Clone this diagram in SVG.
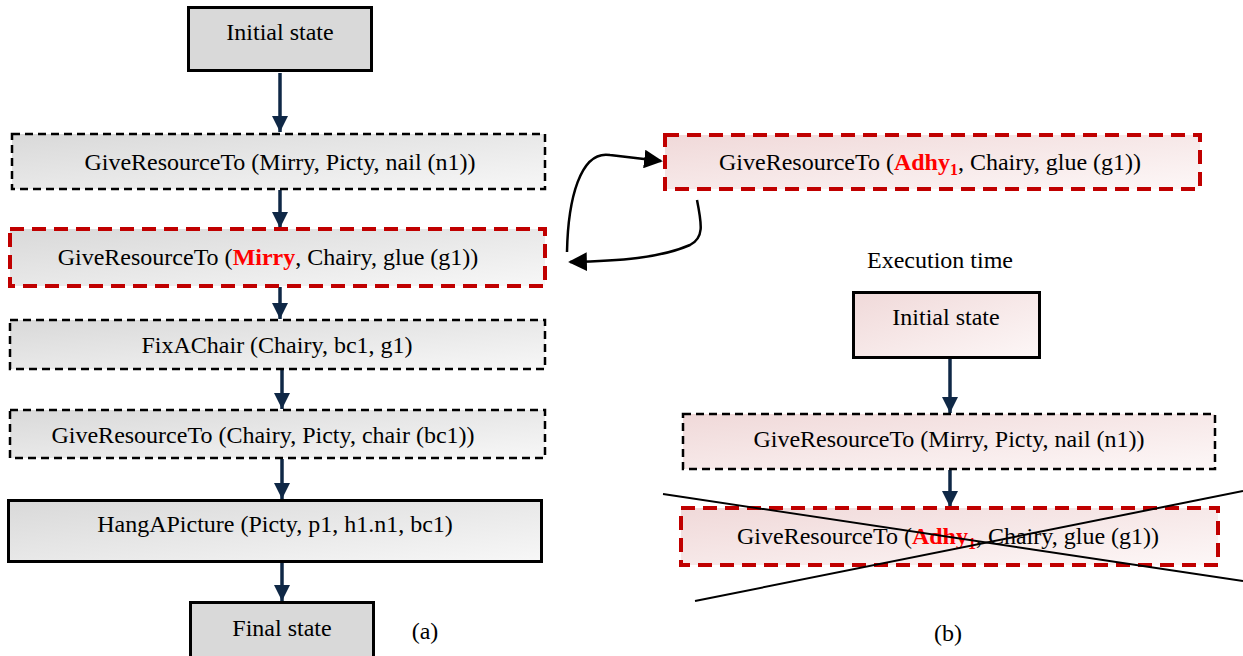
<svg xmlns="http://www.w3.org/2000/svg" width="1243" height="656" viewBox="0 0 1243 656">
<defs>
<linearGradient id="gGrey" x1="0" y1="0" x2="1" y2="1">
<stop offset="0" stop-color="#d9d9d9"/><stop offset="1" stop-color="#f7f7f7"/>
</linearGradient>
<linearGradient id="gPink" x1="0" y1="0" x2="1" y2="1">
<stop offset="0" stop-color="#f0d9d9"/><stop offset="1" stop-color="#fdf7f7"/>
</linearGradient>
<marker id="nav" viewBox="0 0 10 10" refX="10" refY="5" markerWidth="4.6" markerHeight="4.6" orient="auto" markerUnits="strokeWidth">
<path d="M0,0 L10,5 L0,10 z" fill="#0f2846"/>
</marker>
<marker id="blk" viewBox="0 0 10 10" refX="9" refY="5" markerWidth="7.5" markerHeight="7.5" orient="auto" markerUnits="strokeWidth">
<path d="M0,0 L10,5 L0,10 z" fill="#000"/>
</marker>
</defs>
<style>
text{font-family:"Liberation Serif","Times New Roman",serif;font-size:24px;fill:#000}
.solid{stroke:#000;stroke-width:3}
.dash{stroke:#000;stroke-width:2.5;stroke-dasharray:8 5}
.rdash{stroke:#c00000;stroke-width:4;stroke-dasharray:14 8}
.red{fill:#ff0000;font-weight:bold}
.con{stroke:#0f2846;stroke-width:3.5;fill:none;marker-end:url(#nav)}
.cur{stroke:#000;stroke-width:2.5;fill:none;marker-end:url(#blk)}
</style>

<g id="connectors">
<line class="con" x1="280" y1="73" x2="280" y2="132"/>
<line class="con" x1="280" y1="190" x2="280" y2="228"/>
<line class="con" x1="280" y1="287" x2="280" y2="319"/>
<line class="con" x1="282" y1="370" x2="282" y2="409"/>
<line class="con" x1="282" y1="459" x2="282" y2="499"/>
<line class="con" x1="282" y1="562" x2="282" y2="601"/>
<line class="con" x1="950" y1="359" x2="950" y2="413"/>
<line class="con" x1="950" y1="470" x2="950" y2="507"/>
<path class="cur" d="M567,252 C568,200 580,150 610,155 L661,161"/>
<path class="cur" d="M697,200 C702,225 704,238 690,245 C660,258 620,261 570,262"/>
</g>

<g id="a-initial">
<rect class="solid" x="188.5" y="7.5" width="183" height="63" fill="#d9d9d9"/>
<text x="280" y="40" text-anchor="middle">Initial state</text>
</g>
<g id="a-give1">
<rect class="dash" x="12" y="134" width="533" height="55" fill="url(#gGrey)"/>
<text x="280" y="170" text-anchor="middle">GiveResourceTo (Mirry, Picty, nail (n1))</text>
</g>
<g id="a-give2">
<rect class="rdash" x="10" y="229" width="535" height="57" fill="url(#gGrey)"/>
<text x="268" y="265" text-anchor="middle">GiveResourceTo (<tspan class="red">Mirry</tspan>, Chairy, glue (g1))</text>
</g>
<g id="a-fix">
<rect class="dash" x="10" y="320" width="535" height="49" fill="url(#gGrey)"/>
<text x="277" y="353" text-anchor="middle">FixAChair (Chairy, bc1, g1)</text>
</g>
<g id="a-give3">
<rect class="dash" x="10" y="410" width="535" height="48" fill="url(#gGrey)"/>
<text x="263" y="443" text-anchor="middle">GiveResourceTo (Chairy, Picty, chair (bc1))</text>
</g>
<g id="a-hang">
<rect class="solid" x="8.5" y="500.5" width="533" height="61" fill="url(#gGrey)"/>
<text x="275" y="532" text-anchor="middle">HangAPicture (Picty, p1, h1.n1, bc1)</text>
</g>
<g id="a-final">
<rect class="solid" x="190.5" y="602.5" width="183" height="55" fill="#d9d9d9"/>
<text x="282" y="636" text-anchor="middle">Final state</text>
</g>
<text id="label-a" x="425" y="639" text-anchor="middle">(a)</text>

<g id="b-adhy-top">
<rect class="rdash" x="665" y="135" width="535" height="54" fill="url(#gPink)"/>
<text x="930" y="170" text-anchor="middle">GiveResourceTo (<tspan class="red">Adhy</tspan><tspan class="red" font-size="16" dy="5">1</tspan><tspan dy="-5">, Chairy, glue (g1))</tspan></text>
</g>
<text id="exec-time" x="940" y="268" text-anchor="middle">Execution time</text>

<g id="b-initial">
<rect class="solid" x="853.5" y="292.5" width="186" height="65" fill="url(#gPink)"/>
<text x="946" y="325" text-anchor="middle">Initial state</text>
</g>
<g id="b-give1">
<rect class="dash" x="683" y="414" width="532" height="55" fill="url(#gPink)"/>
<text x="949" y="447" text-anchor="middle">GiveResourceTo (Mirry, Picty, nail (n1))</text>
</g>
<g id="b-adhy">
<rect class="rdash" x="681" y="508" width="537" height="57" fill="url(#gPink)"/>
<text x="948" y="544" text-anchor="middle">GiveResourceTo (<tspan class="red">Adhy</tspan><tspan class="red" font-size="16" dy="5">1</tspan><tspan dy="-5">, Chairy, glue (g1))</tspan></text>
</g>
<g id="cross">
<line x1="663" y1="494" x2="1243" y2="581" stroke="#000" stroke-width="2"/>
<line x1="695" y1="601" x2="1243" y2="491" stroke="#000" stroke-width="2"/>
</g>
<text id="label-b" x="948" y="641" text-anchor="middle">(b)</text>
</svg>
